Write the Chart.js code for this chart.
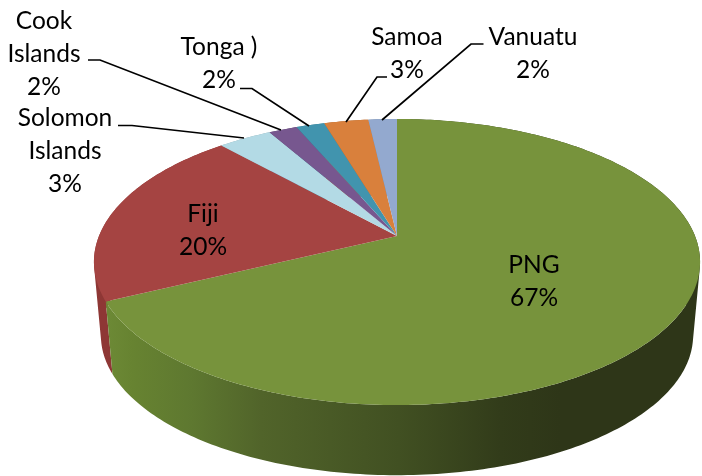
<!DOCTYPE html>
<html>
<head>
<meta charset="utf-8">
<style>
  html, body { margin: 0; padding: 0; background: #fff; }
  canvas { display: block; }
</style>
<script src="https://cdn.jsdelivr.net/npm/chart.js@4"></script>
</head>
<body>
<canvas id="pie" width="702" height="476"></canvas>
<script>
// Data, clockwise from 12 o'clock
const categories = ['PNG', 'Fiji', 'Solomon Islands', 'Cook Islands', 'Tonga )', 'Samoa', 'Vanuatu'];
const shares = [67.4, 20.4, 3.4, 1.8, 1.8, 2.8, 1.8];
const sliceColors = ['#77933c', '#a54442', '#b3dae5', '#77578f', '#4194ae', '#d9803c', '#93a9cf'];
const wallColors = ['#55692b', '#8e3735', '#8aa8b0', '#5a4270', '#2f6f85', '#a8622e', '#7085a0'];

// Perspective of the disc
const disc = { cx: 397, cy: 236, a: 298, b: 138.3, k: 0.182, drop: 74, shrink: 0.977 };

// Text lines and leader lines of each slice
const labelLayout = {
  'PNG': { lines: ['PNG'], x: 534, y: 265, leader: null },
  'Fiji': { lines: ['Fiji'], x: 203, y: 214, leader: null },
  'Solomon Islands': { lines: ['Solomon', 'Islands'], x: 65, y: 118, leader: [[118, 125.5], [132, 125.5], [244, 138]] },
  'Cook Islands': { lines: ['Cook', 'Islands'], x: 44, y: 21, leader: [[88, 60], [100, 60], [281, 130]] },
  'Tonga )': { lines: ['Tonga )'], x: 219, y: 47, leader: [[240, 88.5], [252, 88.5], [309, 126]] },
  'Samoa': { lines: ['Samoa'], x: 407, y: 37, leader: [[387, 77], [377, 77], [346, 122]] },
  'Vanuatu': { lines: ['Vanuatu'], x: 533, y: 37, leader: [[483.5, 44], [471, 44], [382, 120]] }
};
const lineStep = 33;

// Map a pie angle (0 = top, clockwise) to the picture
function rimPoint(theta, lower) {
  const w = 1 + disc.k * Math.cos(theta);
  const s = lower ? disc.shrink : 1;
  return [
    disc.cx + s * disc.a * Math.sin(theta) / w,
    disc.cy + (lower ? disc.drop : 0) - s * disc.b * Math.cos(theta) / w
  ];
}

function wallFill(ctx, i) {
  if (i !== 0) return wallColors[i];
  const g = ctx.createLinearGradient(100, 0, 560, 0);
  g.addColorStop(0, '#6e8b37');
  g.addColorStop(0.07, '#678331');
  g.addColorStop(0.2, '#5e7830');
  g.addColorStop(0.35, '#51642a');
  g.addColorStop(0.65, '#415022');
  g.addColorStop(0.87, '#323c1a');
  g.addColorStop(1, '#2e3618');
  return g;
}

// Walls first, then the top face, then the labels
const discPlugin = {
  id: 'disc3d',
  beforeDatasetsDraw(chart) {
    const ctx = chart.ctx;
    const arcs = chart.getDatasetMeta(0).data;
    const spans = arcs.map(arc => [arc.startAngle + Math.PI / 2, arc.endAngle + Math.PI / 2]);

    ctx.save();
    for (let i = arcs.length - 1; i >= 0; i--) {
      const [from, to] = spans[i];
      const steps = Math.ceil((to - from) * 60);
      // all strips go in one path, same winding, so the sides sweep out the outline without seams
      ctx.beginPath();
      for (let n = 0; n < steps; n++) {
        const t0 = from + (to - from) * n / steps;
        const t1 = from + (to - from) * (n + 1) / steps;
        let quad = [rimPoint(t0, false), rimPoint(t1, false), rimPoint(t1, true), rimPoint(t0, true)];
        let area = 0;
        quad.forEach((p, q) => {
          const next = quad[(q + 1) % 4];
          area += p[0] * next[1] - next[0] * p[1];
        });
        if (area < 0) quad = quad.reverse();
        quad.forEach((p, q) => q ? ctx.lineTo(p[0], p[1]) : ctx.moveTo(p[0], p[1]));
        ctx.closePath();
      }
      ctx.fillStyle = wallFill(ctx, i);
      ctx.fill();
    }

    arcs.forEach((arc, i) => {
      const [from, to] = spans[i];
      const steps = Math.ceil((to - from) * 60);
      ctx.beginPath();
      ctx.moveTo(disc.cx, disc.cy);
      for (let n = 0; n <= steps; n++) {
        const p = rimPoint(from + (to - from) * n / steps, false);
        ctx.lineTo(p[0], p[1]);
      }
      ctx.closePath();
      ctx.fillStyle = sliceColors[i];
      ctx.fill();
    });

    ctx.strokeStyle = '#000';
    ctx.lineWidth = 1.7;
    ctx.fillStyle = '#000';
    ctx.font = '24.5px Lato';
    ctx.textAlign = 'center';
    ctx.textBaseline = 'middle';
    categories.forEach((name, i) => {
      const spot = labelLayout[name];
      const rows = spot.lines.concat(Math.round(shares[i]) + '%');
      rows.forEach((text, r) => ctx.fillText(text, spot.x, spot.y + r * lineStep));
      if (spot.leader) {
        ctx.beginPath();
        spot.leader.forEach((p, n) => n ? ctx.lineTo(p[0], p[1]) : ctx.moveTo(p[0], p[1]));
        ctx.stroke();
      }
    });
    ctx.restore();
    return false;
  }
};

new Chart(document.getElementById('pie'), {
  type: 'pie',
  data: {
    labels: categories,
    datasets: [{ data: shares, backgroundColor: sliceColors, borderWidth: 0 }]
  },
  options: {
    responsive: false,
    animation: false,
    plugins: { legend: { display: false }, tooltip: { enabled: false } }
  },
  plugins: [discPlugin]
});
</script>
</body>
</html>
